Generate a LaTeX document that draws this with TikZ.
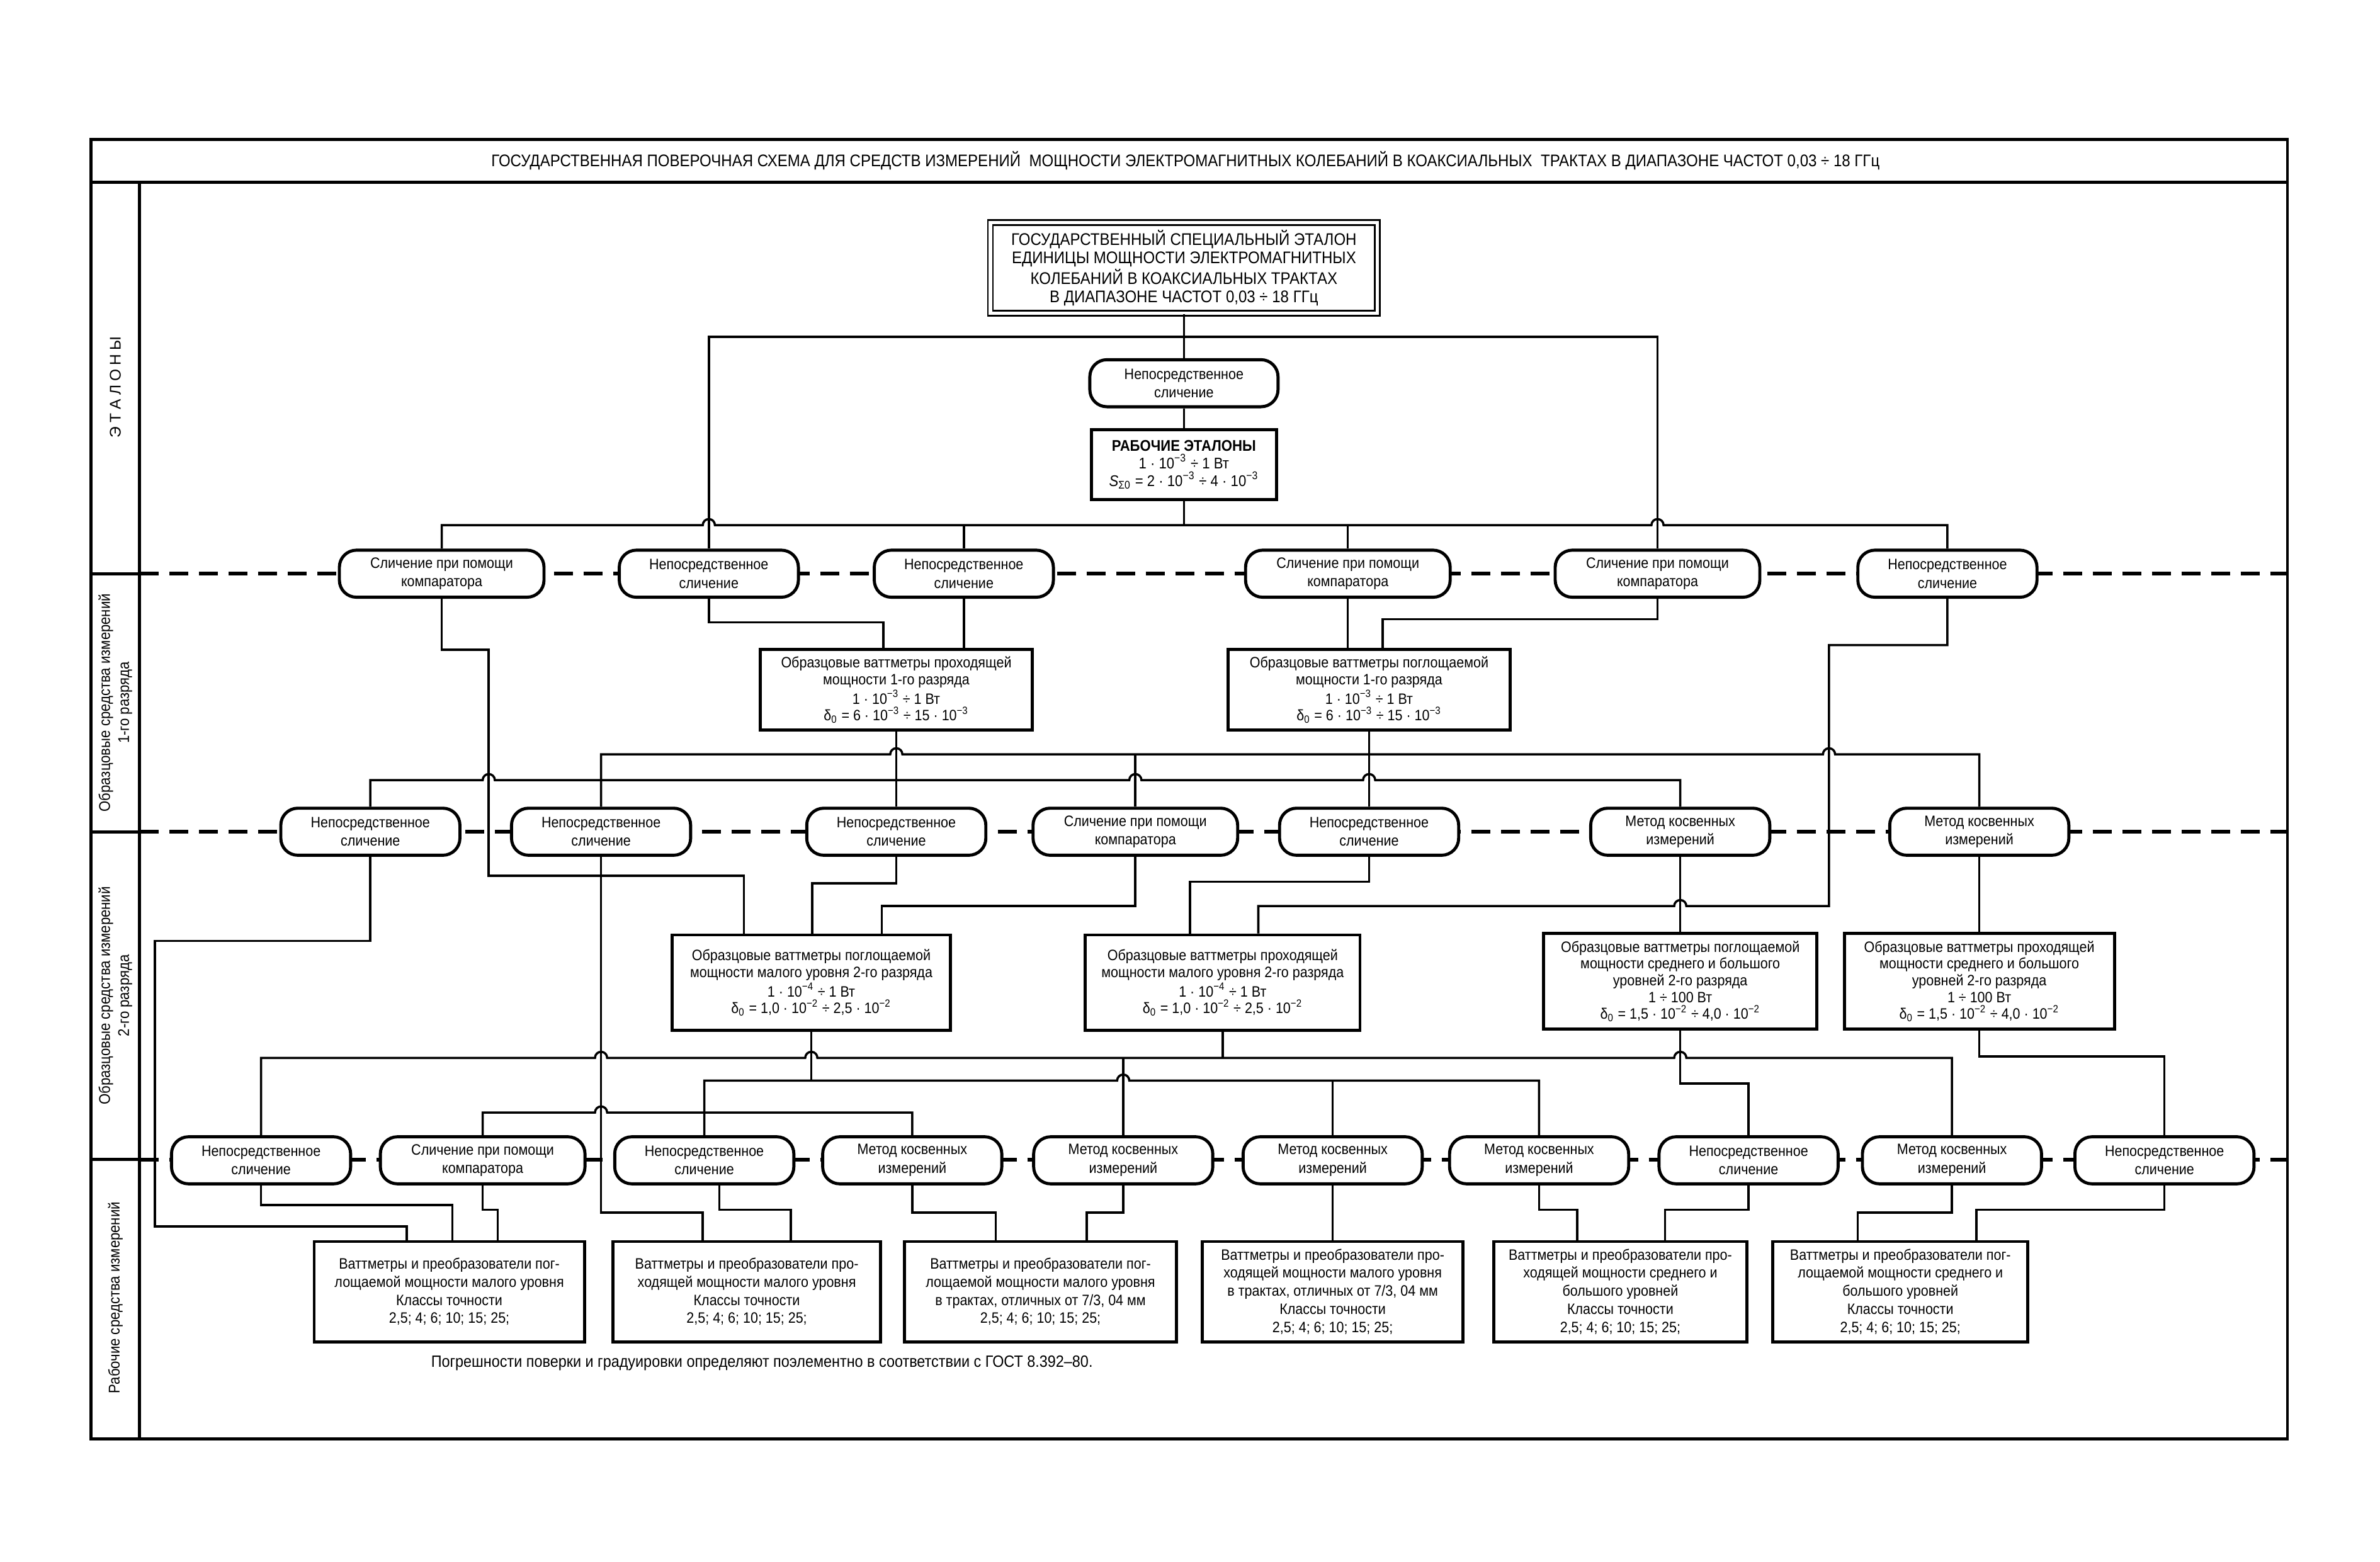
\documentclass[tikz,border=0pt]{standalone}
\usepackage{fontspec}
\setmainfont{Liberation Sans}[FakeStretch=0.9]
\newfontfamily\widelbl{Liberation Sans}[LetterSpace=25]
\usetikzlibrary{backgrounds}
\newcommand{\tenp}[1]{10\textsuperscript{−#1}}
\newcommand{\bump}[2]{-- ({#1-4},#2) arc[start angle=180,end angle=0,radius=0.0964cm]}
\newcommand{\ndfont}{\fontsize{6.8}{8.4}\selectfont}
\newcommand{\bxfont}{\fontsize{6.8}{7.6}\selectfont}
\newcommand{\wkfont}{\fontsize{6.8}{8.2}\selectfont}
\newcommand{\mbxfont}{\fontsize{7.6}{8.3}\selectfont}
\newcommand{\ttlfont}{\fontsize{7.6}{10}\selectfont}
\newcommand{\lblfont}{\fontsize{7}{8.6}\selectfont}
\tikzset{
  ln/.style={line width=1pt},
  frame/.style={line width=1.4pt},
  dashline/.style={line width=1.6pt, dash pattern=on 0.3cm off 0.17cm},
  rn/.style={draw, line width=1.4pt, fill=white, rounded corners=0.27cm,
    minimum width=2.845cm, minimum height=0.747cm, align=center, inner sep=1pt, font=\ndfont},
  rnw/.style={rn, minimum width=3.25cm},
  bx/.style={draw, line width=1.4pt, fill=white, align=center, inner sep=1pt,
    minimum width=#1, minimum height=1.278cm, font=\bxfont},
  bxt/.style={bx=#1, minimum height=1.519cm},
  wk/.style={draw, line width=1.4pt, fill=white, align=center, inner sep=1pt,
    minimum width=#1, minimum height=1.591cm, font=\wkfont},
}
\begin{document}
\begin{tikzpicture}[x=0.024107cm, y=-0.024107cm]
\useasboundingbox (0,0) rectangle (1568,1029);

% ---------- nodes ----------
\node[draw, double, line width=0.8pt, double distance=1.5pt, fill=white, align=center,
  minimum width=6.147cm, minimum height=1.374cm, font=\mbxfont] (M) at (780,176.5)
  {ГОСУДАРСТВЕННЫЙ СПЕЦИАЛЬНЫЙ ЭТАЛОН\\ЕДИНИЦЫ МОЩНОСТИ ЭЛЕКТРОМАГНИТНЫХ\\КОЛЕБАНИЙ В КОАКСИАЛЬНЫХ ТРАКТАХ\\В ДИАПАЗОНЕ ЧАСТОТ 0,03 ÷ 18 ГГц};
\node[rn, minimum width=2.989cm] (N0) at (780,252.5) {Непосредственное\\сличение};
\node[bx=2.941cm, minimum height=1.109cm, font=\fontsize{7}{8}\selectfont] (R) at (780,306)
  {\textbf{РАБОЧИЕ ЭТАЛОНЫ}\\1 · \tenp{3} ÷ 1 Вт\\\textit{S}\textsubscript{Σ0} = 2 · \tenp{3} ÷ 4 · \tenp{3}};

% row 1
\node[rnw] (n1a) at (291,378) {Сличение при помощи\\компаратора};
\node[rn] (n1b) at (467,378) {Непосредственное\\сличение};
\node[rn] (n1c) at (635,378) {Непосредственное\\сличение};
\node[rnw] (n1d) at (888,378) {Сличение при помощи\\компаратора};
\node[rnw] (n1e) at (1092,378) {Сличение при помощи\\компаратора};
\node[rn] (n1f) at (1283,378) {Непосредственное\\сличение};

% level 1 boxes
\node[bx=4.315cm] (L1a) at (590.5,454.5)
  {Образцовые ваттметры проходящей\\мощности 1-го разряда\\1 · \tenp{3} ÷ 1 Вт\\δ\textsubscript{0} = 6 · \tenp{3} ÷ 15 · \tenp{3}};
\node[bx=4.484cm] (L1b) at (902,454.5)
  {Образцовые ваттметры поглощаемой\\мощности 1-го разряда\\1 · \tenp{3} ÷ 1 Вт\\δ\textsubscript{0} = 6 · \tenp{3} ÷ 15 · \tenp{3}};

% row 2
\node[rn] (n2a) at (244,548) {Непосредственное\\сличение};
\node[rn] (n2b) at (396,548) {Непосредственное\\сличение};
\node[rn] (n2c) at (590.5,548) {Непосредственное\\сличение};
\node[rnw] (n2d) at (748,548) {Сличение при помощи\\компаратора};
\node[rn] (n2e) at (902,548) {Непосредственное\\сличение};
\node[rn] (n2f) at (1107,548) {Метод косвенных\\измерений};
\node[rn] (n2g) at (1304,548) {Метод косвенных\\измерений};

% level 2 boxes
\node[bxt=4.412cm] (L2a) at (534.5,647.5)
  {Образцовые ваттметры поглощаемой\\мощности малого уровня 2-го разряда\\1 · \tenp{4} ÷ 1 Вт\\δ\textsubscript{0} = 1,0 · \tenp{2} ÷ 2,5 · \tenp{2}};
\node[bxt=4.363cm] (L2b) at (805.5,647.5)
  {Образцовые ваттметры проходящей\\мощности малого уровня 2-го разряда\\1 · \tenp{4} ÷ 1 Вт\\δ\textsubscript{0} = 1,0 · \tenp{2} ÷ 2,5 · \tenp{2}};
\node[bxt=4.339cm] (L2c) at (1107,646.5)
  {Образцовые ваттметры поглощаемой\\мощности среднего и большого\\уровней 2-го разряда\\1 ÷ 100 Вт\\δ\textsubscript{0} = 1,5 · \tenp{2} ÷ 4,0 · \tenp{2}};
\node[bxt=4.291cm] (L2d) at (1304,646.5)
  {Образцовые ваттметры проходящей\\мощности среднего и большого\\уровней 2-го разряда\\1 ÷ 100 Вт\\δ\textsubscript{0} = 1,5 · \tenp{2} ÷ 4,0 · \tenp{2}};

% row 3
\node[rn] (n3a) at (172,764.5) {Непосредственное\\сличение};
\node[rnw] (n3b) at (318,764.5) {Сличение при помощи\\компаратора};
\node[rn] (n3c) at (464,764.5) {Непосредственное\\сличение};
\node[rn] (n3d) at (601,764.5) {Метод косвенных\\измерений};
\node[rn] (n3e) at (740,764.5) {Метод косвенных\\измерений};
\node[rn] (n3f) at (878,764.5) {Метод косвенных\\измерений};
\node[rn] (n3g) at (1014,764.5) {Метод косвенных\\измерений};
\node[rn] (n3h) at (1152,764.5) {Непосредственное\\сличение};
\node[rn] (n3i) at (1286,764.5) {Метод косвенных\\измерений};
\node[rn] (n3j) at (1426,764.5) {Непосредственное\\сличение};

% working instruments
\node[wk=4.291cm] (W1) at (296,851)
  {Ваттметры и преобразователи пог-\\лощаемой мощности малого уровня\\Классы точности\\2,5; 4; 6; 10; 15; 25;};
\node[wk=4.243cm] (W2) at (492,851)
  {Ваттметры и преобразователи про-\\ходящей мощности малого уровня\\Классы точности\\2,5; 4; 6; 10; 15; 25;};
\node[wk=4.315cm] (W3) at (685.5,851)
  {Ваттметры и преобразователи пог-\\лощаемой мощности малого уровня\\в трактах, отличных от 7/3, 04 мм\\2,5; 4; 6; 10; 15; 25;};
\node[wk=4.146cm] (W4) at (878,851)
  {Ваттметры и преобразователи про-\\ходящей мощности малого уровня\\в трактах, отличных от 7/3, 04 мм\\Классы точности\\2,5; 4; 6; 10; 15; 25;};
\node[wk=4.026cm] (W5) at (1067.5,851)
  {Ваттметры и преобразователи про-\\ходящей мощности среднего и\\большого уровней\\Классы точности\\2,5; 4; 6; 10; 15; 25;};
\node[wk=4.050cm] (W6) at (1252,851)
  {Ваттметры и преобразователи пог-\\лощаемой мощности среднего и\\большого уровней\\Классы точности\\2,5; 4; 6; 10; 15; 25;};

% title, labels, footnote
\node[font=\ttlfont] (title) at (781,106)
  {ГОСУДАРСТВЕННАЯ ПОВЕРОЧНАЯ СХЕМА ДЛЯ СРЕДСТВ ИЗМЕРЕНИЙ \ МОЩНОСТИ ЭЛЕКТРОМАГНИТНЫХ КОЛЕБАНИЙ В КОАКСИАЛЬНЫХ \ ТРАКТАХ В ДИАПАЗОНЕ ЧАСТОТ 0,03 ÷ 18 ГГц};
\node[rotate=90, font=\lblfont] (lab0) at (76,255) {\widelbl ЭТАЛОНЫ};
\node[rotate=90, font=\lblfont, align=center] (lab1) at (76,463) {Образцовые средства измерений\\1-го разряда};
\node[rotate=90, font=\lblfont, align=center] (lab2) at (76,656) {Образцовые средства измерений\\2-го разряда};
\node[rotate=90, font=\lblfont] (lab3) at (76,855) {Рабочие средства измерений};
\node[font=\fontsize{7.4}{8}\selectfont] (note) at (502,898)
  {Погрешности поверки и градуировки определяют поэлементно в соответствии с ГОСТ 8.392–80.};

% ---------- background: frame and dashed level lines ----------
\begin{pgfonlayer}{background}
\draw[frame] (60,92) rectangle (1507,948);
\draw[frame] (60,120) -- (1507,120);
\draw[frame] (92,120) -- (92,948);
\foreach \yy in {378,548,764} {
  \draw[frame] (60,\yy) -- (92,\yy);
  \draw[dashline] (92,\yy) -- (1507,\yy);
}
\end{pgfonlayer}

% ---------- connectors ----------
% top
\draw[ln] (M.south) -- (N0.north);
\draw[ln] (N0.south) -- (R.north);
\draw[ln] (n1b.north) |- (1092,222) -- (n1e.north);
\draw[ln] (R.south) -- (780,346);
\draw[ln] (n1a.north) -- (291,346) \bump{467}{346} \bump{1092}{346} -- (1283,346) -- (n1f.north);
\draw[ln] (635,346) -- (n1c.north);
\draw[ln] (888,346) -- (n1d.north);

% row 1 -> level 1 / below
\draw[ln] (n1a.south) |- (322,428) -- (322,577) -- (490,577) -- (L2a.north -| 490,0);
\draw[ln] (n1b.south) |- (582,410) -- (L1a.north -| 582,0);
\draw[ln] (n1c.south) -- (L1a.north -| 635,0);
\draw[ln] (n1d.south) -- (L1b.north -| 888,0);
\draw[ln] (n1e.south) |- (911,408) -- (L1b.north -| 911,0);
\draw[ln] (L2b.north -| 829,0) -- (829,597) \bump{1107}{597} -- (1205,597) -- (1205,425) -| (n1f.south);

% level 1 -> row 2
\draw[ln] (n2b.north) -- (396,497) \bump{590.5}{497} \bump{1205}{497} -- (1304,497) -- (n2g.north);
\draw[ln] (748,497) -- (n2d.north);
\draw[ln] (L1b.south) -- (n2e.north);
\draw[ln] (n2a.north) -- (244,514) \bump{322}{514} \bump{748}{514} \bump{902}{514} -- (1107,514) -- (n2f.north);
\draw[ln] (L1a.south) -- (n2c.north);

% row 2 -> level 2 / below
\draw[ln] (n2a.south) |- (102,620) -- (102,808) -| (W1.north -| 268,0);
\draw[ln] (n2b.south) |- (463,799) -- (W2.north -| 463,0);
\draw[ln] (n2c.south) |- (535,582) -- (L2a.north -| 535,0);
\draw[ln] (n2d.south) |- (581,597) -- (L2a.north -| 581,0);
\draw[ln] (n2e.south) |- (784,581) -- (L2b.north -| 784,0);
\draw[ln] (n2f.south) -- (L2c.north);
\draw[ln] (n2g.south) -- (L2d.north);

% level 2 -> row 3
\draw[ln] (n3a.north) -- (172,697) \bump{396}{697} \bump{534.5}{697} \bump{1107}{697} -- (1286,697) -- (n3i.north);
\draw[ln] (L2b.south) -- (805.5,697);
\draw[ln] (740,697) -- (n3e.north);
\draw[ln] (L2a.south) -- (534.5,712);
\draw[ln] (n3c.north) -- (464,712) \bump{740}{712} -- (1014,712) -- (n3g.north);
\draw[ln] (878,712) -- (n3f.north);
\draw[ln] (n3b.north) -- (318,733) \bump{396}{733} -- (601,733) -- (n3d.north);
\draw[ln] (L2c.south) |- (1152,714) -- (n3h.north);
\draw[ln] (L2d.south) |- (1426,696) -- (n3j.north);

% row 3 -> working instruments
\draw[ln] (n3a.south) |- (298,794) -- (W1.north -| 298,0);
\draw[ln] (n3b.south) |- (328,797) -- (W1.north -| 328,0);
\draw[ln] (n3c.south -| 474,0) |- (521,797) -- (W2.north -| 521,0);
\draw[ln] (n3d.south) |- (656,799) -- (W3.north -| 656,0);
\draw[ln] (n3e.south) |- (716,799) -- (W3.north -| 716,0);
\draw[ln] (n3f.south) -- (W4.north);
\draw[ln] (n3g.south) |- (1039,797) -- (W5.north -| 1039,0);
\draw[ln] (n3h.south) |- (1097,797) -- (W5.north -| 1097,0);
\draw[ln] (n3i.south) |- (1224,799) -- (W6.north -| 1224,0);
\draw[ln] (n3j.south) |- (1302,797) -- (W6.north -| 1302,0);
\end{tikzpicture}
\end{document}
